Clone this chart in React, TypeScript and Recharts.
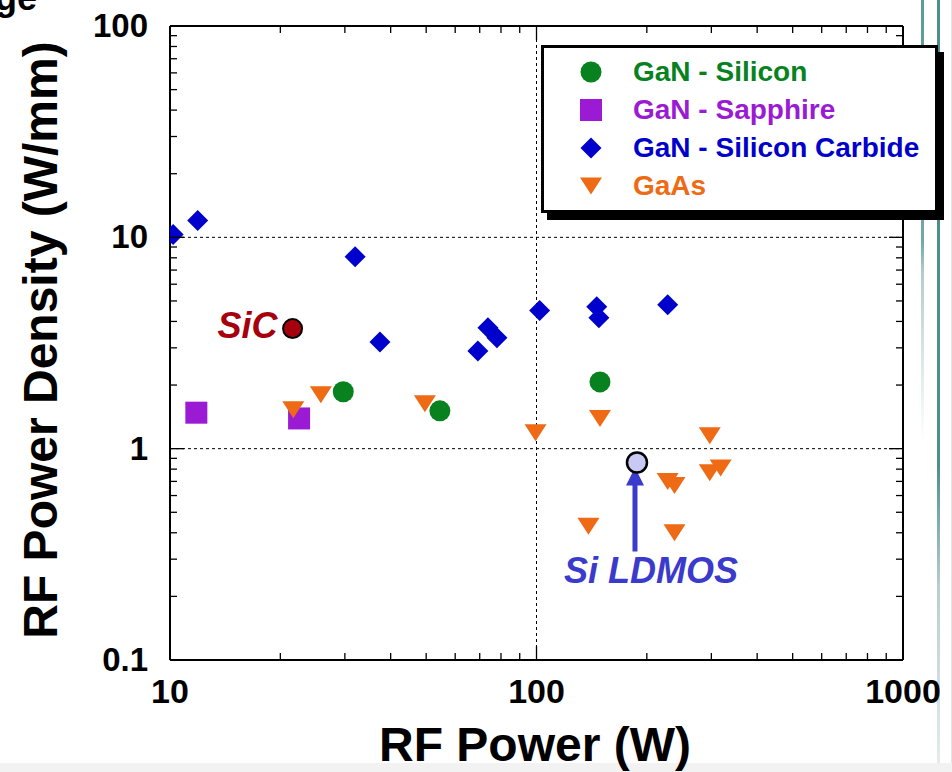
import React from "react";
import { ScatterChart, Scatter, XAxis, YAxis, ReferenceLine, Legend } from "recharts";

// значения (лог-лог шкала)
const GAN_SILICON = [
  { x: 29.7, y: 1.86 },
  { x: 54.5, y: 1.51 },
  { x: 149, y: 2.07 },
];
const GAN_SAPPHIRE = [
  { x: 11.8, y: 1.48 },
  { x: 22.5, y: 1.39 },
];
const GAN_SIC = [
  { x: 10.2, y: 10.3 },
  { x: 11.9, y: 12.0 },
  { x: 32, y: 8.1 },
  { x: 37.4, y: 3.2 },
  { x: 69.2, y: 2.9 },
  { x: 73.7, y: 3.73 },
  { x: 78, y: 3.35 },
  { x: 102, y: 4.5 },
  { x: 146, y: 4.7 },
  { x: 148, y: 4.16 },
  { x: 228, y: 4.8 },
];
const GAAS = [
  { x: 21.7, y: 1.53 },
  { x: 25.8, y: 1.8 },
  { x: 49.6, y: 1.63 },
  { x: 99.4, y: 1.19 },
  { x: 149, y: 1.39 },
  { x: 297, y: 1.15 },
  { x: 228, y: 0.7 },
  { x: 238, y: 0.67 },
  { x: 297, y: 0.77 },
  { x: 318, y: 0.81 },
  { x: 138.6, y: 0.43 },
  { x: 238, y: 0.4 },
];
const SIC_REF = [{ x: 21.6, y: 3.7 }];
const LDMOS_REF = [{ x: 188, y: 0.86 }];

const X_MAJOR = [10, 100, 1000];
const X_TICKS = [10, 20, 30, 40, 50, 60, 70, 80, 90, 100, 200, 300, 400, 500, 600, 700, 800, 900, 1000];
const Y_MAJOR = [0.1, 1, 10, 100];
const Y_TICKS = [
  0.1, 0.2, 0.3, 0.4, 0.5, 0.6, 0.7, 0.8, 0.9,
  1, 2, 3, 4, 5, 6, 7, 8, 9,
  10, 20, 30, 40, 50, 60, 70, 80, 90, 100,
];
const GRID_X = [100];
const GRID_Y = [1, 10];

const FONT = '"Liberation Sans", Arial, Helvetica, sans-serif';

const GREEN = "#07821f";
const PURPLE = "#9a1bd3";
const BLUE = "#0000cc";
const ORANGE = "#ee6a14";
const SIC_RED = "#a6000f";
const LDMOS_BLUE = "#3a3acc";

const drawCircle = (cx: number, cy: number, c: string) => <circle cx={cx} cy={cy} r={10.5} fill={c} />;
const drawSquare = (cx: number, cy: number, c: string) => (
  <rect x={cx - 11} y={cy - 11} width={22} height={22} fill={c} />
);
const drawDiamond = (cx: number, cy: number, c: string) => (
  <polygon points={`${cx},${cy - 10.5} ${cx + 10.5},${cy} ${cx},${cy + 10.5} ${cx - 10.5},${cy}`} fill={c} />
);
const drawTriangle = (cx: number, cy: number, c: string) => (
  <polygon points={`${cx - 11},${cy - 8.5} ${cx + 11},${cy - 8.5} ${cx},${cy + 8.5}`} fill={c} />
);

const LEGEND_ROWS = [
  { name: "GaN - Silicon", color: GREEN, draw: drawCircle },
  { name: "GaN - Sapphire", color: PURPLE, draw: drawSquare },
  { name: "GaN - Silicon Carbide", color: BLUE, draw: drawDiamond },
  { name: "GaAs", color: ORANGE, draw: drawTriangle },
];

function BottomTick(p: any) {
  const v = p.payload.value;
  const major = X_MAJOR.includes(v);
  return (
    <g>
      <line x1={p.x} x2={p.x} y1={p.y} y2={p.y - (major ? 14 : 7)} stroke="#000" strokeWidth={1.3} />
      {major && (
        <text x={p.x} y={p.y + 43} textAnchor="middle" fontSize={34} fontWeight="bold" fontFamily={FONT} fill="#000">
          {v}
        </text>
      )}
    </g>
  );
}

function TopTick(p: any) {
  const major = X_MAJOR.includes(p.payload.value);
  return <line x1={p.x} x2={p.x} y1={p.y} y2={p.y + (major ? 14 : 7)} stroke="#000" strokeWidth={1.3} />;
}

function LeftTick(p: any) {
  const v = p.payload.value;
  const major = Y_MAJOR.includes(v);
  return (
    <g>
      <line x1={p.x} x2={p.x + (major ? 14 : 7)} y1={p.y} y2={p.y} stroke="#000" strokeWidth={1.3} />
      {major && (
        <text x={p.x - 22} y={p.y + 11} textAnchor="end" fontSize={33} fontWeight="bold" fontFamily={FONT} fill="#000">
          {v}
        </text>
      )}
    </g>
  );
}

function RightTick(p: any) {
  const major = Y_MAJOR.includes(p.payload.value);
  return <line x1={p.x} x2={p.x - (major ? 14 : 7)} y1={p.y} y2={p.y} stroke="#000" strokeWidth={1.3} />;
}

function LegendBox() {
  return (
    <div
      style={{
        boxSizing: "border-box",
        width: 397,
        height: 168,
        border: "3px solid #000",
        background: "#fff",
        boxShadow: "6px 7px 0 #000",
        paddingTop: 5,
        fontFamily: FONT,
      }}
    >
      {LEGEND_ROWS.map((r) => (
        <div key={r.name} style={{ position: "relative", height: 38 }}>
          <svg width={24} height={24} style={{ position: "absolute", left: 35, top: 7 }}>
            {r.draw(12, 12, r.color)}
          </svg>
          <span
            style={{
              position: "absolute",
              left: 89,
              top: 0,
              lineHeight: "38px",
              fontSize: 28,
              fontWeight: "bold",
              color: r.color,
              whiteSpace: "nowrap",
            }}
          >
            {r.name}
          </span>
        </div>
      ))}
    </div>
  );
}

export default function App() {
  return (
    <div style={{ position: "absolute", left: 0, top: 0, width: 952, height: 772, background: "#fff", overflow: "hidden" }}>
      {/* полосы оформления слайда справа и снизу */}
      <div
        style={{
          position: "absolute",
          left: 921,
          top: 0,
          width: 3,
          height: 440,
          background: "linear-gradient(to bottom, #5e9a9a 0%, #74a7a7 55%, #b5cccc 62%, rgba(255,255,255,0) 100%)",
        }}
      />
      <div
        style={{
          position: "absolute",
          left: 937,
          top: 0,
          width: 3,
          height: 772,
          background: "linear-gradient(to bottom, #4b8e8e 0%, #4b8e8e 60%, #b9cdcd 76%, #e6eded 100%)",
        }}
      />
      <div style={{ position: "absolute", left: 951, top: 0, width: 1, height: 772, background: "#e4e4e4" }} />
      <div style={{ position: "absolute", left: 0, top: 763, width: 952, height: 9, background: "#f2f2f2" }} />

      <svg width={952} height={772} style={{ position: "absolute", left: 0, top: 0 }}>
        <text x={-5} y={10} fontSize={36} fontWeight="bold" fontFamily={FONT} fill="#000">
          ge
        </text>
        <text
          x={57}
          y={340}
          transform="rotate(-90 57 340)"
          textAnchor="middle"
          fontSize={48}
          fontWeight="bold"
          fontFamily={FONT}
          fill="#000"
        >
          RF Power Density (W/mm)
        </text>
        <text x={535} y={761} textAnchor="middle" fontSize={48} fontWeight="bold" fontFamily={FONT} fill="#000">
          RF Power (W)
        </text>
      </svg>

      <div style={{ position: "absolute", left: 0, top: 0 }}>
        <ScatterChart width={952} height={772} margin={{ top: 25, right: 48, bottom: 111, left: 169 }}>
          <XAxis
            type="number"
            dataKey="x"
            scale="log"
            domain={[10, 1000]}
            allowDataOverflow
            ticks={X_TICKS}
            interval={0}
            height={1}
            tickSize={0}
            tickMargin={0}
            tickLine={false}
            tick={(p: any) => <BottomTick {...p} />}
            axisLine={{ stroke: "#000", strokeWidth: 2 }}
          />
          <XAxis
            xAxisId="top"
            orientation="top"
            type="number"
            dataKey="x"
            scale="log"
            domain={[10, 1000]}
            allowDataOverflow
            ticks={X_TICKS}
            interval={0}
            height={1}
            tickSize={0}
            tickMargin={0}
            tickLine={false}
            tick={(p: any) => <TopTick {...p} />}
            axisLine={{ stroke: "#000", strokeWidth: 2 }}
          />
          <YAxis
            type="number"
            dataKey="y"
            scale="log"
            domain={[0.1, 100]}
            allowDataOverflow
            ticks={Y_TICKS}
            interval={0}
            width={1}
            tickSize={0}
            tickMargin={0}
            tickLine={false}
            tick={(p: any) => <LeftTick {...p} />}
            axisLine={{ stroke: "#000", strokeWidth: 2 }}
          />
          <YAxis
            yAxisId="right"
            orientation="right"
            type="number"
            dataKey="y"
            scale="log"
            domain={[0.1, 100]}
            allowDataOverflow
            ticks={Y_TICKS}
            interval={0}
            width={1}
            tickSize={0}
            tickMargin={0}
            tickLine={false}
            tick={(p: any) => <RightTick {...p} />}
            axisLine={{ stroke: "#000", strokeWidth: 2 }}
          />

          {GRID_X.map((v) => (
            <ReferenceLine key={"gx" + v} x={v} stroke="#000" strokeWidth={1} strokeDasharray="3 3" />
          ))}
          {GRID_Y.map((v) => (
            <ReferenceLine key={"gy" + v} y={v} stroke="#000" strokeWidth={1} strokeDasharray="3 3" />
          ))}

          <Scatter
            name="GaN - Silicon Carbide"
            data={GAN_SIC}
            fill={BLUE}
            isAnimationActive={false}
            shape={(p: any) => drawDiamond(p.cx, p.cy, BLUE)}
          />
          <Scatter
            name="GaN - Sapphire"
            data={GAN_SAPPHIRE}
            fill={PURPLE}
            isAnimationActive={false}
            shape={(p: any) => drawSquare(p.cx, p.cy, PURPLE)}
          />
          <Scatter
            name="GaAs"
            data={GAAS}
            fill={ORANGE}
            isAnimationActive={false}
            shape={(p: any) => drawTriangle(p.cx, p.cy, ORANGE)}
          />
          <Scatter
            name="GaN - Silicon"
            data={GAN_SILICON}
            fill={GREEN}
            isAnimationActive={false}
            shape={(p: any) => drawCircle(p.cx, p.cy, GREEN)}
          />
          <Scatter
            name="SiC"
            data={SIC_REF}
            legendType="none"
            isAnimationActive={false}
            shape={(p: any) => (
              <g>
                <circle cx={p.cx} cy={p.cy} r={9.5} fill={SIC_RED} stroke="#000" strokeWidth={2} />
                <text
                  x={p.cx - 15}
                  y={p.cy + 9}
                  textAnchor="end"
                  fontSize={36}
                  fontWeight="bold"
                  fontStyle="italic"
                  fontFamily={FONT}
                  fill={SIC_RED}
                >
                  SiC
                </text>
              </g>
            )}
          />
          <Scatter
            name="Si LDMOS"
            data={LDMOS_REF}
            legendType="none"
            isAnimationActive={false}
            shape={(p: any) => (
              <g>
                <line x1={p.cx - 2} x2={p.cx - 2} y1={p.cy + 89} y2={p.cy + 20} stroke={LDMOS_BLUE} strokeWidth={5} />
                <polygon
                  points={`${p.cx - 2},${p.cy + 5} ${p.cx - 11},${p.cy + 23} ${p.cx + 7},${p.cy + 23}`}
                  fill={LDMOS_BLUE}
                />
                <circle cx={p.cx} cy={p.cy} r={10} fill="#c9c9f3" stroke="#000" strokeWidth={2.5} />
                <text
                  x={p.cx + 14}
                  y={p.cy + 120}
                  textAnchor="middle"
                  fontSize={36}
                  fontWeight="bold"
                  fontStyle="italic"
                  fontFamily={FONT}
                  fill={LDMOS_BLUE}
                >
                  Si LDMOS
                </text>
              </g>
            )}
          />

          <Legend
            layout="vertical"
            align="center"
            verticalAlign="middle"
            content={() => <LegendBox />}
            wrapperStyle={{ left: 541, top: 45, width: 397, height: 168 }}
          />
        </ScatterChart>
      </div>
    </div>
  );
}
